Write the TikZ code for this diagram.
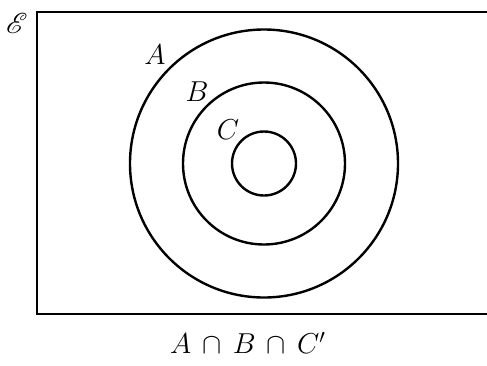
\documentclass[tikz,border=0pt]{standalone}
\usepackage{amsmath}
\usepackage{mathrsfs}
\usetikzlibrary{positioning}

\begin{document}
\begin{tikzpicture}[
    x=0.5pt, y=-0.5pt,
    set/.style = {draw, line width=1.2pt},
    label/.style = {inner sep=0pt, font=\fontsize{14}{16}\selectfont}]

    \useasboundingbox (0,0) rectangle (487,365);
    \clip (0,0) rectangle (487,365);

    \draw[line width=1.4pt] (37,12) rectangle (492,314);
    \coordinate (O) at (264,163.5);
    \draw[set] (O) circle[radius=67pt];
    \draw[set] (O) circle[radius=40.5pt];
    \draw[set] (O) circle[radius=16pt];

    \node[label] (E) at (17,23) {$\mathscr{E}$};
    \node[label] (A) at (155,55) {$A$};
    \node[label] (B) at (197,92) {$B$};
    \node[label] (C) at (228,130) {$C$};
    \node[label] (S) at (248,343) {$A \,\cap\, B \,\cap\, C'$};
\end{tikzpicture}
\end{document}
